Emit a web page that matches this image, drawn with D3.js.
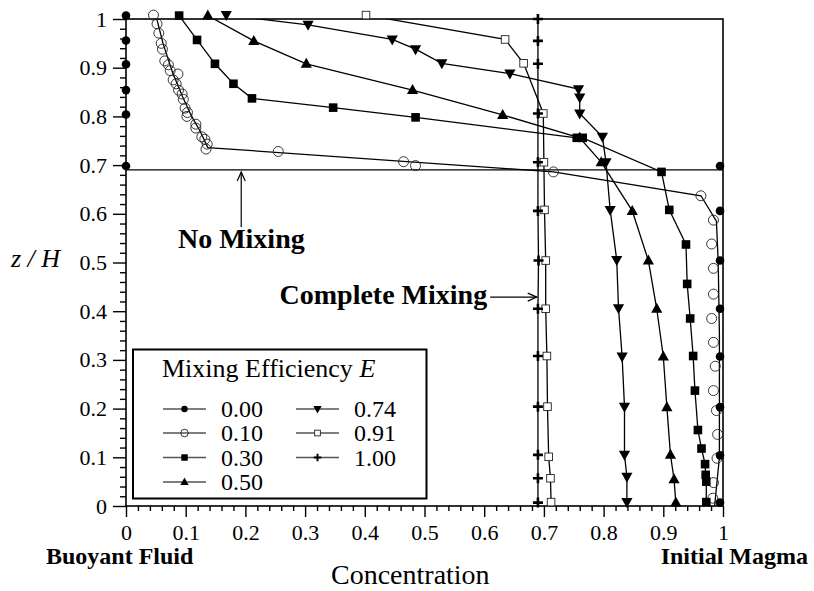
<!DOCTYPE html>
<html>
<head>
<meta charset="utf-8">
<script src="https://cdn.jsdelivr.net/npm/d3@7"></script>
<style>
  body { margin: 0; background: #fff; }
</style>
</head>
<body>
<svg id="chart" width="814" height="591"></svg>
<script>
// ---- axis ticks ----
const xTicks = [0, 0.1, 0.2, 0.3, 0.4, 0.5, 0.6, 0.7, 0.8, 0.9, 1];
const xTickLabels = ["0", "0.1", "0.2", "0.3", "0.4", "0.5", "0.6", "0.7", "0.8", "0.9", "1"];
const yTicks = [0, 0.1, 0.2, 0.3, 0.4, 0.5, 0.6, 0.7, 0.8, 0.9, 1];
const yTickLabels = ["0", "0.1", "0.2", "0.3", "0.4", "0.5", "0.6", "0.7", "0.8", "0.9", "1"];

// ---- concentration profiles, one pair of arrays per mixing efficiency ----
// E = 0.00 (no mixing: buoyant fluid above the interface, magma below)
const conc000 = [0, 0, 0, 0, 0, 0, 0.995, 0.995, 0.995, 0.995, 0.995, 0.995, 0.995, 0.995];
const z000    = [1.007, 0.956, 0.907, 0.854, 0.804, 0.698, 0.698, 0.606, 0.504, 0.405, 0.307, 0.203, 0.104, 0.007];

// E = 0.10 measured points
const conc010 = [0.046, 0.052, 0.055, 0.059, 0.061, 0.065, 0.071, 0.074, 0.087, 0.079, 0.084, 0.088, 0.094, 0.096,
                 0.099, 0.103, 0.102, 0.117, 0.117, 0.127, 0.132, 0.136, 0.134, 0.255, 0.465, 0.485, 0.716, 0.963,
                 0.984, 0.981, 0.984, 0.984, 0.981, 0.984, 0.987, 0.984, 0.989, 0.991, 0.990, 0.984, 0.983];
const z010    = [1.008, 0.990, 0.971, 0.950, 0.938, 0.914, 0.906, 0.894, 0.887, 0.875, 0.867, 0.854, 0.846, 0.835,
                 0.817, 0.808, 0.800, 0.784, 0.776, 0.758, 0.753, 0.743, 0.733, 0.728, 0.707, 0.699, 0.686, 0.637,
                 0.587, 0.538, 0.488, 0.435, 0.385, 0.336, 0.287, 0.237, 0.196, 0.147, 0.098, 0.048, 0.016];
// E = 0.10 profile line
const concLine010 = [0.050, 0.062, 0.078, 0.095, 0.110, 0.124, 0.137, 0.716, 0.963, 0.989, 0.992, 0.994, 0.994, 0.994, 0.986];
const zLine010    = [1.008, 0.950, 0.890, 0.840, 0.800, 0.770, 0.736, 0.686, 0.637, 0.585, 0.500, 0.350, 0.200, 0.100, 0.000];

// E = 0.30
const conc030 = [0.089, 0.119, 0.149, 0.180, 0.211, 0.347, 0.485, 0.755, 0.765, 0.897, 0.910, 0.938, 0.940, 0.945,
                 0.950, 0.953, 0.958, 0.964, 0.970, 0.971, 0.972, 0.972];
const z030    = [1.007, 0.957, 0.908, 0.867, 0.837, 0.818, 0.798, 0.756, 0.756, 0.686, 0.608, 0.537, 0.456, 0.385,
                 0.308, 0.237, 0.156, 0.118, 0.086, 0.064, 0.050, 0.008];

// E = 0.50
const conc050 = [0.137, 0.214, 0.302, 0.480, 0.631, 0.760, 0.796, 0.848, 0.875, 0.889, 0.900, 0.906, 0.912, 0.918, 0.921];
const z050    = [1.007, 0.955, 0.908, 0.854, 0.803, 0.756, 0.706, 0.606, 0.504, 0.405, 0.307, 0.203, 0.105, 0.055, 0.007];

// E = 0.74
const conc074 = [0.168, 0.305, 0.446, 0.485, 0.529, 0.643, 0.758, 0.760, 0.760, 0.798, 0.804, 0.811, 0.822, 0.825,
                 0.831, 0.835, 0.835, 0.839, 0.839];
const z074    = [1.008, 0.988, 0.958, 0.938, 0.909, 0.888, 0.856, 0.839, 0.806, 0.758, 0.706, 0.608, 0.505, 0.406,
                 0.307, 0.204, 0.105, 0.060, 0.008];

// E = 0.91
const conc091 = [0.402, 0.635, 0.666, 0.699, 0.700, 0.701, 0.703, 0.703, 0.705, 0.706, 0.708, 0.711, 0.712];
const z091    = [1.008, 0.958, 0.909, 0.806, 0.706, 0.608, 0.504, 0.405, 0.308, 0.204, 0.101, 0.057, 0.008];

// E = 1.00 (complete mixing)
const conc100 = [0.690, 0.690, 0.690, 0.690, 0.690, 0.690, 0.691, 0.690, 0.690, 0.690, 0.690, 0.690, 0.690];
const z100    = [1.000, 0.955, 0.908, 0.806, 0.706, 0.606, 0.504, 0.405, 0.308, 0.204, 0.105, 0.057, 0.007];

// legend entries
const legendLabels = ["0.00", "0.10", "0.30", "0.50", "0.74", "0.91", "1.00"];

// annotations (data units)
const noMixingLevel = 0.69;

const pairs = (cs, zs) => cs.map((c, i) => [c, zs[i]]);

const series = [
  { key: "0.00", marker: "dot",      pts: pairs(conc000, z000), line: null },
  { key: "0.10", marker: "ring",     pts: pairs(conc010, z010), line: pairs(concLine010, zLine010) },
  { key: "0.30", marker: "square",   pts: pairs(conc030, z030), line: pairs(conc030, z030) },
  { key: "0.50", marker: "triUp",    pts: pairs(conc050, z050), line: pairs(conc050, z050) },
  { key: "0.74", marker: "triDown",  pts: pairs(conc074, z074), line: pairs(conc074, z074) },
  { key: "0.91", marker: "box",      pts: pairs(conc091, z091), line: pairs(conc091, z091) },
  { key: "1.00", marker: "plus",     pts: pairs(conc100, z100), line: pairs(conc100, z100) }
];

// ---- layout ----
const serifFont = '"Liberation Serif", "Times New Roman", Times, serif';
const svg = d3.select("#chart").style("font-family", serifFont);
const plotLeft = 126, plotRight = 723, plotTop = 19, plotBottom = 506;
const x = d3.scaleLinear().domain([0, 1]).range([plotLeft, plotRight]);
const y = d3.scaleLinear().domain([0, 1]).range([plotBottom, plotTop]);

svg.append("defs").append("clipPath").attr("id", "plotClip")
  .append("rect").attr("x", plotLeft).attr("y", plotTop)
  .attr("width", plotRight - plotLeft).attr("height", plotBottom - plotTop);

function addText(g, str) {
  return g.append("text").style("font-family", serifFont).attr("fill", "#000").text(str);
}

// marker painter
function drawMarker(g, type, cx, cy, scale = 1) {
  const s = scale;
  switch (type) {
    case "dot":
      g.append("circle").attr("cx", cx).attr("cy", cy).attr("r", 4.3 * s).attr("fill", "#000");
      break;
    case "ring":
      g.append("circle").attr("cx", cx).attr("cy", cy).attr("r", 5 * s)
        .attr("fill", "none").attr("stroke", "#222").attr("stroke-width", 0.9);
      break;
    case "square":
      g.append("rect").attr("x", cx - 4.3 * s).attr("y", cy - 4.3 * s)
        .attr("width", 8.6 * s).attr("height", 8.6 * s).attr("fill", "#000");
      break;
    case "triUp":
      g.append("path").attr("d", `M${cx},${cy - 6 * s}L${cx + 5.6 * s},${cy + 4 * s}L${cx - 5.6 * s},${cy + 4 * s}Z`)
        .attr("fill", "#000");
      break;
    case "triDown":
      g.append("path").attr("d", `M${cx},${cy + 6 * s}L${cx + 5.6 * s},${cy - 4 * s}L${cx - 5.6 * s},${cy - 4 * s}Z`)
        .attr("fill", "#000");
      break;
    case "box":
      g.append("rect").attr("x", cx - 3.8 * s).attr("y", cy - 3.8 * s)
        .attr("width", 7.6 * s).attr("height", 7.6 * s)
        .attr("fill", "#fff").attr("stroke", "#222").attr("stroke-width", 0.9);
      break;
    case "plus":
      g.append("path").attr("d", `M${cx - 5 * s},${cy}H${cx + 5 * s}M${cx},${cy - 5 * s}V${cy + 5 * s}`)
        .attr("stroke", "#000").attr("stroke-width", 2.6 * s).attr("fill", "none");
      break;
  }
}

// ---- axes ----
const minorTicks = d3.range(0, 1.0001, 0.02).filter(v => Math.abs(v * 10 - Math.round(v * 10)) > 1e-6);

const yAxis = d3.axisLeft(y).tickValues(yTicks).tickFormat((d, i) => yTickLabels[i]).tickSize(13).tickPadding(6);
const yMinor = d3.axisLeft(y).tickValues(minorTicks).tickFormat("").tickSize(6);
const xAxis = d3.axisBottom(x).tickValues(xTicks).tickFormat((d, i) => xTickLabels[i]).tickSize(11).tickPadding(7);
const xMinor = d3.axisBottom(x).tickValues(minorTicks).tickFormat("").tickSize(5);

function styleAxis(g) {
  g.attr("font-family", null);
  g.select(".domain").remove();
  g.selectAll("line").attr("stroke", "#000").attr("stroke-width", 1.4);
  g.selectAll("text").attr("font-size", 22).attr("fill", "#000").style("font-family", serifFont);
}
svg.append("g").attr("transform", `translate(${plotLeft},0)`).call(yAxis).call(styleAxis);
svg.append("g").attr("transform", `translate(${plotLeft},0)`).call(yMinor).call(styleAxis);
svg.append("g").attr("transform", `translate(0,${plotBottom})`).call(xAxis).call(styleAxis);
svg.append("g").attr("transform", `translate(0,${plotBottom})`).call(xMinor).call(styleAxis);

// plot frame
svg.append("rect").attr("x", plotLeft).attr("y", plotTop)
  .attr("width", plotRight - plotLeft).attr("height", plotBottom - plotTop)
  .attr("fill", "none").attr("stroke", "#000").attr("stroke-width", 1.6);

// no-mixing interface
svg.append("line")
  .attr("x1", x(0)).attr("x2", x(1)).attr("y1", y(noMixingLevel)).attr("y2", y(noMixingLevel))
  .attr("stroke", "#000").attr("stroke-width", 1.2);

// ---- profile lines ----
const lineGen = d3.line().x(d => x(d[0])).y(d => y(d[1]));
const lines = svg.append("g").attr("clip-path", "url(#plotClip)");
series.filter(s => s.line).forEach(s => {
  lines.append("path").attr("d", lineGen(s.line))
    .attr("fill", "none").attr("stroke", "#000").attr("stroke-width", 1.3);
});

// ---- markers ----
const marks = svg.append("g");
["0.10", "0.91", "0.30", "0.50", "0.74", "0.00", "1.00"].forEach(k => {
  const s = series.find(t => t.key === k);
  const g = marks.append("g").attr("class", "series-" + k.replace(".", "_"));
  s.pts.forEach(p => drawMarker(g, s.marker, x(p[0]), y(p[1])));
});

// ---- annotations ----
function arrowHead(g, tipX, tipY, dir) {
  // open V arrow head; dir: "up" or "right"
  const L = 9, W = 4;
  const d = dir === "up"
    ? `M${tipX - W},${tipY + L}L${tipX},${tipY}L${tipX + W},${tipY + L}`
    : `M${tipX - L},${tipY - W}L${tipX},${tipY}L${tipX - L},${tipY + W}`;
  g.append("path").attr("d", d).attr("fill", "none").attr("stroke", "#000").attr("stroke-width", 1.2);
}
const ann = svg.append("g");
ann.append("line").attr("x1", x(0.193)).attr("x2", x(0.193)).attr("y1", y(0.573)).attr("y2", y(0.686))
  .attr("stroke", "#000").attr("stroke-width", 1.2);
arrowHead(ann, x(0.193), y(0.686), "up");
addText(ann, "No Mixing").attr("x", x(0.087)).attr("y", y(0.529))
  .attr("font-size", 28).attr("font-weight", "bold");

addText(ann, "Complete Mixing").attr("x", x(0.61) - 3).attr("y", y(0.414))
  .attr("font-size", 28).attr("font-weight", "bold").attr("text-anchor", "end");
ann.append("line").attr("x1", x(0.61)).attr("x2", x(0.688)).attr("y1", y(0.429)).attr("y2", y(0.429))
  .attr("stroke", "#000").attr("stroke-width", 1.2);
arrowHead(ann, x(0.688), y(0.429), "right");

// ---- axis titles ----
addText(svg, "Concentration").attr("x", 331).attr("y", 584).attr("font-size", 28);
addText(svg, "Buoyant Fluid").attr("x", 46).attr("y", 564).attr("font-size", 24).attr("font-weight", "bold");
addText(svg, "Initial Magma").attr("x", 808).attr("y", 564).attr("font-size", 24).attr("font-weight", "bold")
  .attr("text-anchor", "end");
addText(svg, "z / H").attr("x", 11).attr("y", 267).attr("font-size", 26).attr("font-style", "italic");

// ---- legend ----
const lg = svg.append("g");
lg.append("rect").attr("x", 133).attr("y", 349.5).attr("width", 293.5).attr("height", 149)
  .attr("fill", "#fff").attr("stroke", "#000").attr("stroke-width", 2);
const lt = addText(lg, "").attr("x", 162).attr("y", 377).attr("font-size", 26);
lt.append("tspan").text("Mixing Efficiency ");
lt.append("tspan").attr("font-style", "italic").text("E");

const rowY = [409, 433, 457.5, 482];
legendLabels.forEach((lab, i) => {
  const s = series.find(t => t.key === lab);
  const col = i < 4 ? 0 : 1;
  const row = i < 4 ? i : i - 4;
  const x0 = col === 0 ? 163 : 296;
  const cy = rowY[row];
  const g = lg.append("g");
  g.append("line").attr("x1", x0).attr("x2", x0 + 43).attr("y1", cy).attr("y2", cy)
    .attr("stroke", "#555").attr("stroke-width", 1.3);
  drawMarker(g, s.marker, x0 + 21.5, cy, 0.75);
  addText(g, lab).attr("x", col === 0 ? 221 : 354).attr("y", cy + 8).attr("font-size", 24);
});
</script>
</body>
</html>
